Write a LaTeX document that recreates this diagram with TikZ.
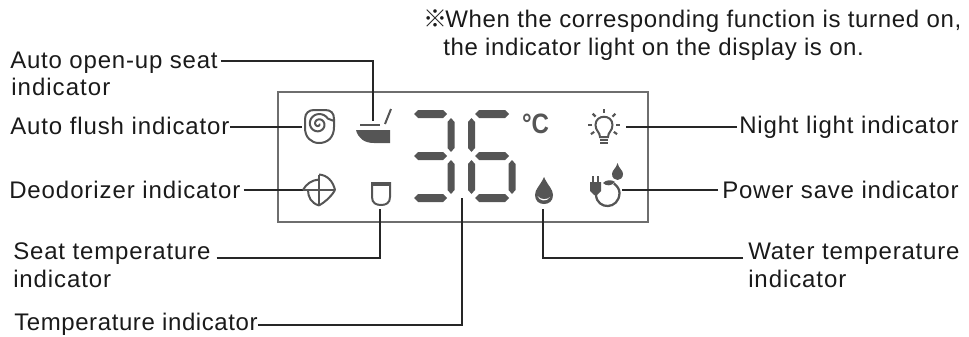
\documentclass[tikz,border=0pt]{standalone}
\usepackage{fontspec}
\setmainfont{Liberation Sans}
\newfontfamily\cjkfont{Noto Sans CJK SC}
\definecolor{lab}{HTML}{1A1A1A}
\definecolor{ico}{HTML}{555555}
\definecolor{boxc}{HTML}{6E6E6E}
\tikzset{
  x=0.75pt,y=-0.75pt,
  lbl/.style={anchor=base west,inner sep=0pt,text=lab,font=\fontsize{18pt}{20pt}\selectfont},
  conn/.style={draw=black!85,line width=1.5pt},
  panel/.style={draw=boxc,line width=1.6pt},
  iconline/.style={draw=ico,line width=1.5pt},
  iconfill/.style={fill=ico}
}
% fit: target width in px, number of characters, text
\newsavebox{\fitbox}
\newcommand{\fit}[3]{\sbox{\fitbox}{#3}\pgfmathsetmacro{\fitls}{(#1*0.75-\wd\fitbox/1pt)/(#2-1)/18*100}{\addfontfeature{LetterSpace=\fitls}#3}}
\newcommand{\hseg}[3]{\fill[ico] (#1,#3) -- (#1+4,#3-4) -- (#2-4,#3-4) -- (#2,#3) -- (#2-4,#3+4) -- (#1+4,#3+4) -- cycle;}
\newcommand{\vseg}[3]{\fill[ico] (#1,#2) -- (#1+3.5,#2+4) -- (#1+3.5,#3-4) -- (#1,#3) -- (#1-3.5,#3-4) -- (#1-3.5,#2+4) -- cycle;}
\begin{document}
\begin{tikzpicture}
\useasboundingbox (0,0) rectangle (969,336);
% note
\node[lbl] (notemark) at (423,27) {\cjkfont ※};
\node[lbl] (note1) at (445,27) {\fit{520}{45}{When the corresponding function is turned on,}};
\node[lbl] (note2) at (443,55) {\fit{425}{41}{the indicator light on the display is on.}};
% panel
\node[panel,minimum width=277.5pt,minimum height=97.5pt,inner sep=0pt,anchor=north west] (display) at (277,91) {};
% labels
\node[lbl] (topen) at (10,68) {\fit{209}{17}{Auto open-up seat}};
\node[lbl] (topen2) at (11,95) {\fit{99}{9}{indicator}};
\node[lbl] (tflush) at (10,134.5) {\fit{221}{20}{Auto flush indicator}};
\node[lbl] (tdeo) at (9,198) {\fit{232}{20}{Deodorizer indicator}};
\node[lbl] (tseat) at (13,259) {\fit{198}{16}{Seat temperature}};
\node[lbl] (tseat2) at (13,287) {\fit{98}{9}{indicator}};
\node[lbl] (ttemp) at (14,330.5) {\fit{244}{21}{Temperature indicator}};
\node[lbl] (tnight) at (739,133) {\fit{221}{21}{Night light indicator}};
\node[lbl] (tpower) at (722,198) {\fit{238}{20}{Power save indicator}};
\node[lbl] (twater) at (748,259) {\fit{212}{17}{Water temperature}};
\node[lbl] (twater2) at (748,287) {\fit{98}{9}{indicator}};
% connector ends
\coordinate (iopen) at (373,121);
\coordinate (iflush) at (302,127);
\coordinate (ideo) at (303,190);
\coordinate (iseat) at (380,209);
\coordinate (itemp) at (462,198);
\coordinate (iwater) at (543,209);
\coordinate (inight) at (626,127);
\coordinate (ipower) at (622,190);
\coordinate (yopen) at (0,61);
\coordinate (yseat) at (0,258);
\coordinate (ytemp) at (0,325);
\coordinate (ywater) at (0,258);
% connectors
\draw[conn] ([xshift=2.2pt]topen.east |- yopen) -| (iopen);
\draw[conn] (tflush.east |- iflush) -- (iflush);
\draw[conn] ([xshift=2.2pt]tdeo.east |- ideo) -- (ideo);
\draw[conn] ([xshift=4.5pt]tseat.east |- yseat) -| (iseat);
\draw[conn] (ttemp.east |- ytemp) -| (itemp);
\draw[conn] ([xshift=-3.7pt]twater.west |- ywater) -| (iwater);
\draw[conn] ([xshift=-1.5pt]tnight.west |- inight) -- (inight);
\draw[conn] ([xshift=-3pt]tpower.west |- ipower) -- (ipower);
% digit 3
\hseg{414}{447}{114}\hseg{414}{447}{156}\hseg{414}{447}{198}
\vseg{451}{118}{152}\vseg{451}{160}{194}
% digit 6
\hseg{475}{509}{114}\hseg{475}{509}{156}\hseg{475}{509}{198}
\vseg{471.5}{118}{152}\vseg{471.5}{160}{194}\vseg{512}{160}{194}
% degree
\node[inner sep=0pt,text=ico,font=\fontsize{21pt}{22pt}\selectfont\bfseries,anchor=base] (degc) at (535.5,133) {\scalebox{.86}[1]{°C}};
% spiral
\draw[iconline] (319,110) -- (325,110) .. controls (331,110) and (334,113) .. (334,119) -- (334,127) .. controls (334,137) and (328,143) .. (319,143) .. controls (311,143) and (305,137) .. (305,128) -- (305,119) .. controls (305,113) and (309,110) .. (314,110) -- cycle;
\draw[iconline] plot[smooth,samples=70,domain=0:690] ({318.5+(0.6+\x/690*10.2)*cos(\x)},{124+(0.6+\x/690*10.2)*sin(\x)}) -- (334,121);
% open-up seat
\draw[iconline] (360,125) -- (380,125);
\draw[iconline] (385,124) -- (391,109);
\fill[ico] (356,130) -- (390,130) -- (390,143) -- (374,143) .. controls (364,143) and (358,138) .. cycle;
% fan
\draw[iconline] (319,174.5) -- (319,205.5) (303,190) -- (335,190);
\draw[iconline] (303,190) .. controls (306,184) and (312,180) .. (319,179.5);
\draw[iconline] (319,174.5) .. controls (327,175) and (333,181) .. (335,190);
\draw[iconline] (335,190) .. controls (331,197) and (325,202) .. (319,205.5);
\draw[iconline] (319,205.5) .. controls (311,203) and (308,197) .. (308,190);
% seat
\draw[iconline] (372,183) -- (372,197) .. controls (372,203) and (376,205) .. (381,205) .. controls (386,205) and (390,203) .. (390,197) -- (390,183) -- cycle;
\fill[ico] (371.5,182) rectangle (390.5,186);
% drop
\fill[ico] (544,177) .. controls (548,186) and (553,189) .. (553,195) .. controls (553,201) and (549,204) .. (544,204) .. controls (539,204) and (535,201) .. (535,195) .. controls (535,189) and (540,186) .. cycle;
\fill[white] (537.5,196) .. controls (539,201) and (547,202.5) .. (550,197) .. controls (547,200) and (541,200) .. cycle;
% bulb
\draw[iconline] (600,137) .. controls (600,132) and (595.5,131) .. (595.5,125) .. controls (595.5,114) and (612.5,114) .. (612.5,125) .. controls (612.5,131) and (608,132) .. (608,137) -- cycle;
\draw[iconline] (600,140) -- (608,140) (600,143) -- (608,143);
\foreach \a in {90,135,45,180,0,215,325}
  \draw[iconline,line width=1.6pt] ({604+12*cos(\a)},{125-12*sin(\a)}) -- ({604+16*cos(\a)},{125-16*sin(\a)});
% plug
\fill[ico] (590,182) -- (601,182) -- (601,191) -- (597,195) -- (594,195) -- (590,191) -- cycle;
\draw[iconline] (593,176) -- (593,182) (598,176) -- (598,182);
\draw[iconline,line width=1.7pt] (596,195) .. controls (597,210) and (619,210) .. (619.5,193) .. controls (619.5,189) and (617,186) .. (614,183.5);
\fill[ico] (617.5,163) .. controls (619,169) and (623,170) .. (623,174) .. controls (623,178) and (620,180) .. (617.5,180) .. controls (615,180) and (612,178) .. (612,174) .. controls (612,170) and (616,169) .. cycle;
\fill[ico] (603,183) .. controls (606,179.5) and (612,179.5) .. (615,182) .. controls (612,186) and (606,186.5) .. cycle;
\end{tikzpicture}
\end{document}
